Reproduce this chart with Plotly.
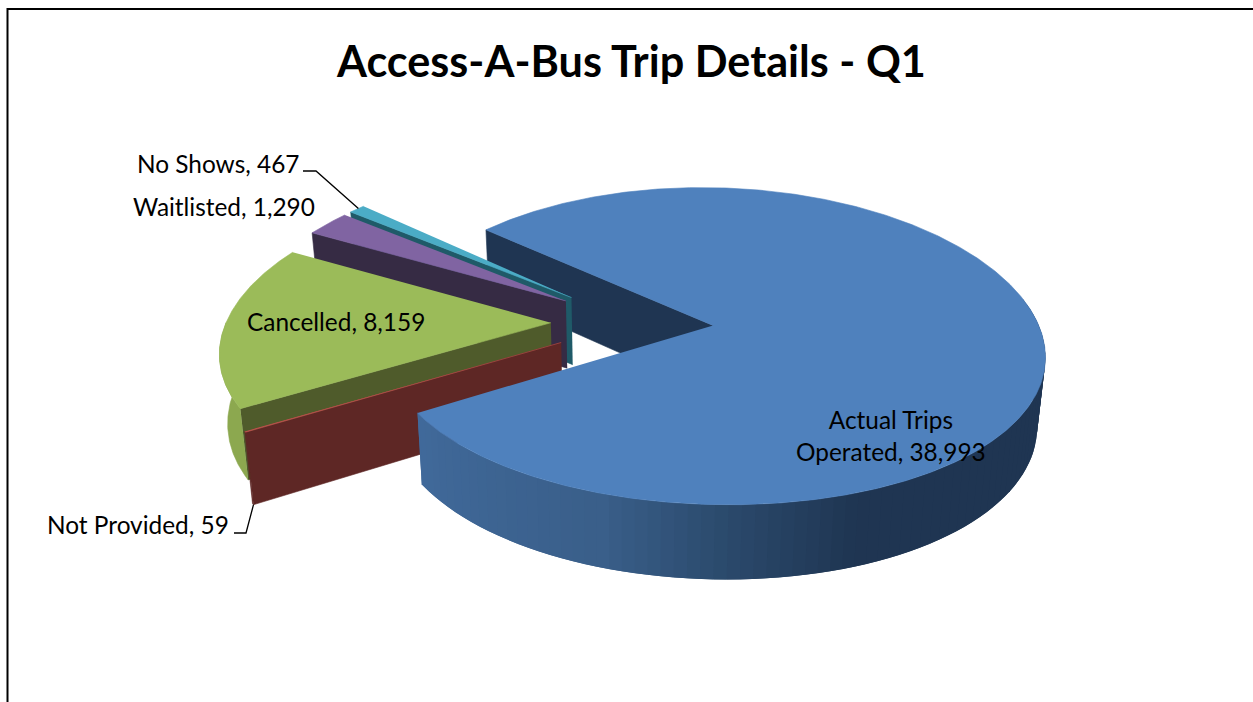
import numpy as np
import plotly.graph_objects as go

# chart values
categories = ['Actual Trips<br>Operated', 'Not Provided', 'Cancelled', 'Waitlisted', 'No Shows']
trips = [38993, 59, 8159, 1290, 467]
top_colors = ['#4F81BD', '#C0504D', '#9BBB59', '#8064A2', '#4BACC6']
wall_colors = ['#1F3552', '#5E2725', '#4F5B2B', '#362B44', '#1F5A68']
rim_colors = ['#1F3552', '#5E2725', '#8CA84F', '#362B44', '#1F5A68']

# 3D pie camera, in screen pixels
CX, CY = 632, 322
RX, RY = 324.5, 155
PERSP_X = 0.16
PERSP_Y = 0.13
DEPTH = 68
SHRINK = 0.98
EXPLODE = 0.25
START_ANGLE = 221.8


def project(gx, gy, bottom=False):
    x = CX + RX * gx / (1 - PERSP_X * gy)
    f = 1 / (1 - PERSP_Y * gy)
    y = CY + RY * gy * f
    if bottom:
        x = CX + (x - CX) * SHRINK
        y = CY + (y - CY) * SHRINK + DEPTH * f
    return x, y


def wedge_geometry(a0, a1):
    mid = np.radians((a0 + a1) / 2)
    ox, oy = EXPLODE * np.cos(mid), EXPLODE * np.sin(mid)
    return ox, oy


def rim(ox, oy, a0, a1, bottom=False):
    t = np.radians(np.linspace(a0, a1, max(int(abs(a1 - a0)) * 2, 4)))
    return project(ox + np.cos(t), oy + np.sin(t), bottom)


def poly(fig, x, y, color, width=0.6):
    fig.add_trace(go.Scatter(
        x=list(x), y=list(y),
        mode='lines',
        fill='toself',
        fillcolor=color,
        line=dict(color=color, width=width),
        hoverinfo='skip',
        showlegend=False
    ))


def draw_wall(fig, ox, oy, angle, color):
    t = np.radians(angle)
    ends = np.array([ox, ox + np.cos(t)]), np.array([oy, oy + np.sin(t)])
    tx, ty = project(*ends)
    bx, by = project(*ends, bottom=True)
    poly(fig, [*tx, *bx[::-1]], [*ty, *by[::-1]], color)


def draw_top(fig, ox, oy, a0, a1, color):
    ax, ay = project(ox, oy)
    rx, ry = rim(ox, oy, a0, a1)
    poly(fig, [ax, *rx], [ay, *ry], color)


def draw_rim(fig, ox, oy, a0, a1, color, width=0.6):
    tx, ty = rim(ox, oy, a0, a1)
    bx, by = rim(ox, oy, a0, a1, bottom=True)
    poly(fig, [*tx, *bx[::-1]], [*ty, *by[::-1]], color, width)


# sweep of every slice, clockwise on screen
total = sum(trips)
sweeps = [v / total * 360 for v in trips]
starts = list(START_ANGLE + np.cumsum([0] + sweeps[:-1]))
ends = [s + w for s, w in zip(starts, sweeps)]
offsets = [wedge_geometry(s, e) for s, e in zip(starts, ends)]

fig = go.Figure()

# inner wall of the big slice goes behind everything else
draw_wall(fig, *offsets[0], starts[0], wall_colors[0])

# small slices, back to front
for i in [4, 3, 2, 1]:
    ox, oy = offsets[i]
    draw_wall(fig, ox, oy, starts[i], wall_colors[i])
    a0, a1 = starts[i] % 360, starts[i] % 360 + sweeps[i]
    if a0 < 180:
        draw_rim(fig, ox, oy, a0, min(a1, 180), rim_colors[i])
    draw_top(fig, ox, oy, starts[i], ends[i], top_colors[i])

# big slice: outer side with a shaded sweep, then the top.
# strips run from the far end and overlap so no seams show
ox, oy = offsets[0]
side_end = ends[0] - 360
shade_at = [-10, 70, 90, 109, side_end]
shade_r = [31, 31, 43, 58, 65]
shade_g = [53, 53, 74, 95, 106]
shade_b = [82, 82, 108, 138, 155]
for a in np.arange(-10, side_end, 2.0):
    b = min(a + 4, side_end)
    m = a + 1
    col = 'rgb(%d,%d,%d)' % (np.interp(m, shade_at, shade_r),
                             np.interp(m, shade_at, shade_g),
                             np.interp(m, shade_at, shade_b))
    draw_rim(fig, ox, oy, a, b, col, width=0)
draw_top(fig, ox, oy, starts[0], ends[0], top_colors[0])

# leader lines hang off the two slices whose labels sit outside
lx, ly = rim(*offsets[4], starts[4], ends[4])
nx, ny = rim(*offsets[1], starts[1], ends[1], bottom=True)
mid = len(lx) // 2
shapes = [
    dict(type='path', path=f'M 303 171 L 316 171 L {lx[mid]:.1f} {ly[mid]:.1f}',
         line=dict(color='black', width=1.3)),
    dict(type='path', path=f'M 234 533 L 246 533 L {nx[0]:.1f} {ny[0]:.1f}',
         line=dict(color='black', width=1.3)),
    # chart frame, cut off by the window on the right and bottom
    dict(type='line', x0=7.5, x1=7.5, y0=8, y1=702, line=dict(color='black', width=2)),
    dict(type='line', x0=7, x1=1253, y0=9, y1=9, line=dict(color='black', width=2)),
]


def label(i, x, y, anchor='center'):
    return dict(x=x, y=y, text=f'{categories[i]}, {trips[i]:,}', showarrow=False,
                xanchor=anchor, yanchor='middle', align='center',
                font=dict(family='Lato', size=24.4, color='black'))


annotations = [
    label(0, 891, 435),
    label(1, 231, 524, 'right'),
    label(2, 336, 321),
    label(3, 317, 206, 'right'),
    label(4, 301, 163, 'right'),
    dict(x=630.5, y=60, text='<b>Access-A-Bus Trip Details - Q1</b>', showarrow=False,
         xanchor='center', yanchor='middle',
         font=dict(family='Lato', size=43.2, color='black')),
]

fig.update_layout(
    width=1253,
    height=702,
    margin=dict(l=0, r=0, t=0, b=0),
    paper_bgcolor='white',
    plot_bgcolor='white',
    xaxis=dict(range=[0, 1253], visible=False, fixedrange=True),
    yaxis=dict(range=[702, 0], visible=False, fixedrange=True),
    shapes=shapes,
    annotations=annotations,
)

fig.write_html("out.html", config={'displayModeBar': False},
               post_script="document.body.style.margin='0';document.body.style.overflow='hidden';")
